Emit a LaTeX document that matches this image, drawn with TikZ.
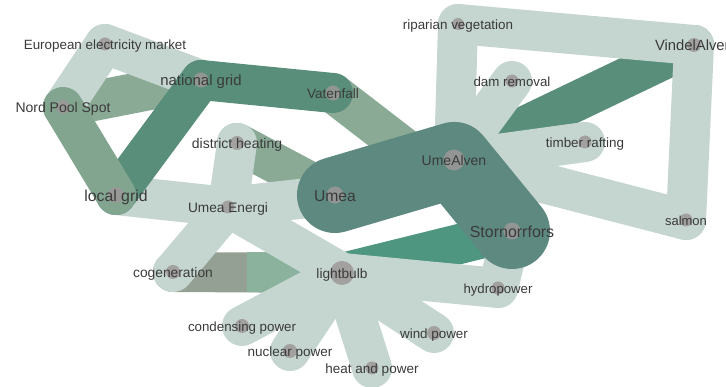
\documentclass[tikz,border=0pt]{standalone}
\usepackage{fontspec}
\setmainfont{Liberation Sans}
\definecolor{cLight}{HTML}{C5D5CF}
\definecolor{cMed}{HTML}{8AAA96}
\definecolor{cMedB}{HTML}{82A590}
\definecolor{cDark}{HTML}{588E7A}
\definecolor{cBlob}{HTML}{5E8980}
\definecolor{cTeal}{HTML}{4E9680}
\definecolor{cCogA}{HTML}{94A093}
\definecolor{cCogB}{HTML}{8AB29C}
\definecolor{cDot}{HTML}{9C9898}
\definecolor{cText}{HTML}{3A3A3A}
\begin{document}
\begin{tikzpicture}[x=1pt,y=-1pt,
  lk/.style={line width=40pt, line cap=round, draw=#1},
  dotn/.style={circle, fill=cDot, fill opacity=0.85, draw=none, inner sep=0pt, minimum size=#1},
  lab/.style={anchor=base, text=cText, inner sep=0pt, font=\fontsize{#1}{#1}\selectfont, yshift={-0.4*#1pt}}]
\useasboundingbox (0,0) rectangle (726,387);
% node positions
\coordinate (eem) at (105,44);
\coordinate (ng) at (201,80);
\coordinate (vat) at (333,93);
\coordinate (nps) at (63,107);
\coordinate (dh) at (237,143);
\coordinate (lg) at (116,195);
\coordinate (ue) at (228,207);
\coordinate (umea) at (335,195);
\coordinate (ua) at (454,160);
\coordinate (sf) at (512,231);
\coordinate (rv) at (458,24);
\coordinate (va) at (694,45);
\coordinate (dr) at (512,81);
\coordinate (tr) at (585,142);
\coordinate (sal) at (686,220);
\coordinate (cog) at (173,272);
\coordinate (cogm) at (247,272);
\coordinate (lb) at (342,273);
\coordinate (hp) at (498,288);
\coordinate (cp) at (242,326);
\coordinate (np) at (290,351);
\coordinate (hap) at (372,368);
\coordinate (wp) at (434,333);
% medium edges (lowest)
\draw[lk=cMed] (nps) -- (ng);
\draw[lk=cMed] (dh) -- (umea);
\draw[lk=cMed] (vat) -- (sf);
% light edges, left group
\draw[lk=cLight] (eem) -- (nps);
\draw[lk=cLight] (eem) -- (ng);
\draw[lk=cLight] (lg) -- (ue);
\draw[lk=cLight] (ue) -- (umea);
\draw[lk=cLight] (dh) -- (ue);
% dark edges
\draw[lk=cDark] (ng) -- (lg);
\draw[lk=cDark] (ng) -- (vat);
\draw[lk=cMedB] (nps) -- (lg);
% lightbulb group
\draw[lk=cCogA] (cog) -- (lb);
\draw[lk=cCogB, line cap=butt] (cogm) -- (lb);
\draw[lk=cTeal] (lb) -- (sf);
\draw[lk=cLight] (ue) -- (cog);
\draw[lk=cLight] (ue) -- (lb);
\draw[lk=cLight] (lb) -- (cp);
\draw[lk=cLight] (lb) -- (np);
\draw[lk=cLight] (lb) -- (hap);
\draw[lk=cLight] (lb) -- (wp);
\draw[lk=cLight] (lb) -- (hp);
\draw[lk=cLight] (hp) -- (sf);
% river group
\draw[lk=cDark] (ua) -- (va);
\draw[lk=cLight] (rv) -- (ua);
\draw[lk=cLight] (rv) -- (va);
\draw[lk=cLight] (va) -- (sal);
\draw[lk=cLight] (sal) -- (ua);
\draw[lk=cLight] (dr) -- (ua);
\draw[lk=cLight] (tr) -- (ua);
% main blob
\draw[lk=cBlob, line width=76pt, line join=round] (umea) -- (ua) -- (sf);
% dots
\node[dotn=13pt] (deem) at (eem) {};
\node[dotn=15pt] (dng) at (ng) {};
\node[dotn=15pt] (dvat) at (vat) {};
\node[dotn=14pt] (dnps) at (nps) {};
\node[dotn=14pt] (ddh) at (dh) {};
\node[dotn=16pt] (dlg) at (lg) {};
\node[dotn=13pt] (due) at (ue) {};
\node[dotn=17pt] (dumea) at (umea) {};
\node[dotn=21pt] (dua) at (ua) {};
\node[dotn=17pt] (dsf) at (sf) {};
\node[dotn=12pt] (drv) at (rv) {};
\node[dotn=14pt] (dva) at (va) {};
\node[dotn=13pt] (ddr) at (dr) {};
\node[dotn=13pt] (dtr) at (tr) {};
\node[dotn=13pt] (dsal) at (sal) {};
\node[dotn=14pt] (dcog) at (cog) {};
\node[dotn=24pt] (dlb) at (lb) {};
\node[dotn=13pt] (dhp) at (hp) {};
\node[dotn=14pt] (dcp) at (cp) {};
\node[dotn=14pt] (dnp) at (np) {};
\node[dotn=13pt] (dhap) at (hap) {};
\node[dotn=14pt] (dwp) at (wp) {};
% labels
\node[lab=13.4] (teem) at (eem) {European electricity market};
\node[lab=14.9] (tng) at (ng) {national grid};
\node[lab=13.6] (tvat) at (vat) {Vatenfall};
\node[lab=14] (tnps) at (nps) {Nord Pool Spot};
\node[lab=14] (tdh) at (dh) {district heating};
\node[lab=15.8] (tlg) at (lg) {local grid};
\node[lab=13.7] (tue) at (ue) {Umea Energi};
\node[lab=15.7] (tumea) at (umea) {Umea};
\node[lab=14] (tua) at (ua) {UmeAlven};
\node[lab=16] (tsf) at (sf) {Stornorrfors};
\node[lab=13.4] (trv) at (rv) {riparian vegetation};
\node[lab=14.8] (tva) at (va) {VindelAlven};
\node[lab=13.3] (tdr) at (dr) {dam removal};
\node[lab=13.4] (ttr) at (tr) {timber rafting};
\node[lab=13] (tsal) at (sal) {salmon};
\node[lab=13.8] (tcog) at (cog) {cogeneration};
\node[lab=13.7] (tlb) at (lb) {lightbulb};
\node[lab=13.2] (thp) at (hp) {hydropower};
\node[lab=13.3] (tcp) at (cp) {condensing power};
\node[lab=13.5] (tnp) at (np) {nuclear power};
\node[lab=13.5] (thap) at (hap) {heat and power};
\node[lab=13.4] (twp) at (wp) {wind power};
\end{tikzpicture}
\end{document}
